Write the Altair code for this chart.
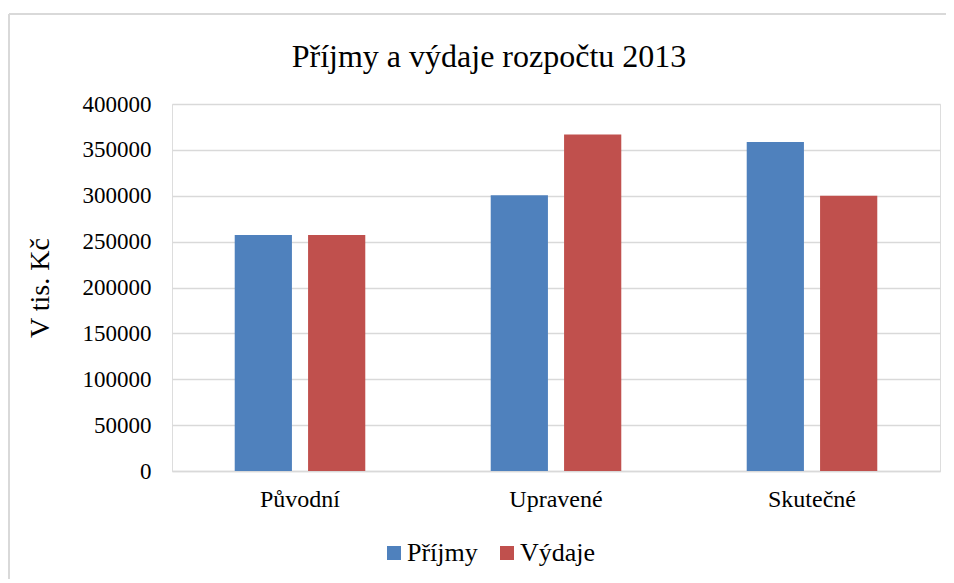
import altair as alt
import pandas as pd

categories = ["Původní", "Upravené", "Skutečné"]
series = ["Příjmy", "Výdaje"]
prijmy = [257300, 300500, 358700]
vydaje = [257300, 366700, 300000]
colors = ["#4F81BD", "#C0504D"]

rows = []
for i, c in enumerate(categories):
    rows.append({"kat": c, "serie": series[0], "hodnota": prijmy[i]})
    rows.append({"kat": c, "serie": series[1], "hodnota": vydaje[i]})
df = pd.DataFrame(rows)

FONT = "'Liberation Serif', 'Times New Roman', 'DejaVu Serif', serif"

bars = alt.Chart(df).mark_bar().encode(
    x=alt.X("kat:N", sort=categories,
            scale=alt.Scale(paddingInner=0.49, paddingOuter=0.245),
            axis=alt.Axis(title=None, labelAngle=0, labelFontSize=24, labelFont=FONT,
                          labelColor="#000000", labelPadding=16, ticks=False,
                          domainColor="#d9d9d9", domainWidth=1.5)),
    xOffset=alt.XOffset("serie:N", sort=series,
                        scale=alt.Scale(paddingInner=0.22, paddingOuter=0)),
    y=alt.Y("hodnota:Q",
            scale=alt.Scale(domain=[0, 400000], nice=False),
            axis=alt.Axis(title="V tis. Kč", values=list(range(0, 400001, 50000)),
                          format="d", labelFontSize=23, labelFont=FONT, labelColor="#000000",
                          labelPadding=21, ticks=False, domain=False,
                          gridColor="#d9d9d9", gridWidth=1.5,
                          titleFont=FONT, titleFontSize=28, titleFontWeight="normal",
                          titleColor="#000000", titleX=-132, titleY=183.5,
                          titleAlign="center", titleBaseline="middle", titleAngle=270)),
    color=alt.Color("serie:N", sort=series,
                    scale=alt.Scale(domain=series, range=colors),
                    legend=alt.Legend(title=None, orient="none", direction="horizontal",
                                      legendX=209, legendY=436, padding=0,
                                      symbolType="square", symbolSize=196,
                                      symbolStrokeWidth=0, labelFont=FONT,
                                      labelFontSize=26, labelColor="#000000",
                                      columnPadding=16, labelOffset=0)),
)

frame_v = alt.Chart(df).mark_rule(color="#d9d9d9", strokeWidth=1.5).encode(
    x=alt.value(-163), y=alt.value(-90), y2=alt.value(480))
frame_h = alt.Chart(df).mark_rule(color="#d9d9d9", strokeWidth=1.5).encode(
    x=alt.value(-163), x2=alt.value(790), y=alt.value(-90))

chart = alt.layer(frame_v, frame_h, bars).properties(
    width=768, height=367,
    title=alt.TitleParams("Příjmy a výdaje rozpočtu 2013", font=FONT, fontSize=32,
                          fontWeight="normal", color="#000000", anchor="middle",
                          baseline="alphabetic", dx=-67, offset=-86),
    autosize=alt.AutoSizeParams(type="none"),
    padding={"left": 164, "top": 96, "right": 6, "bottom": 108},
).configure_view(stroke=None).configure(background="#ffffff", font=FONT)

chart.save("out.html", embed_options={"renderer": "svg", "actions": False})
